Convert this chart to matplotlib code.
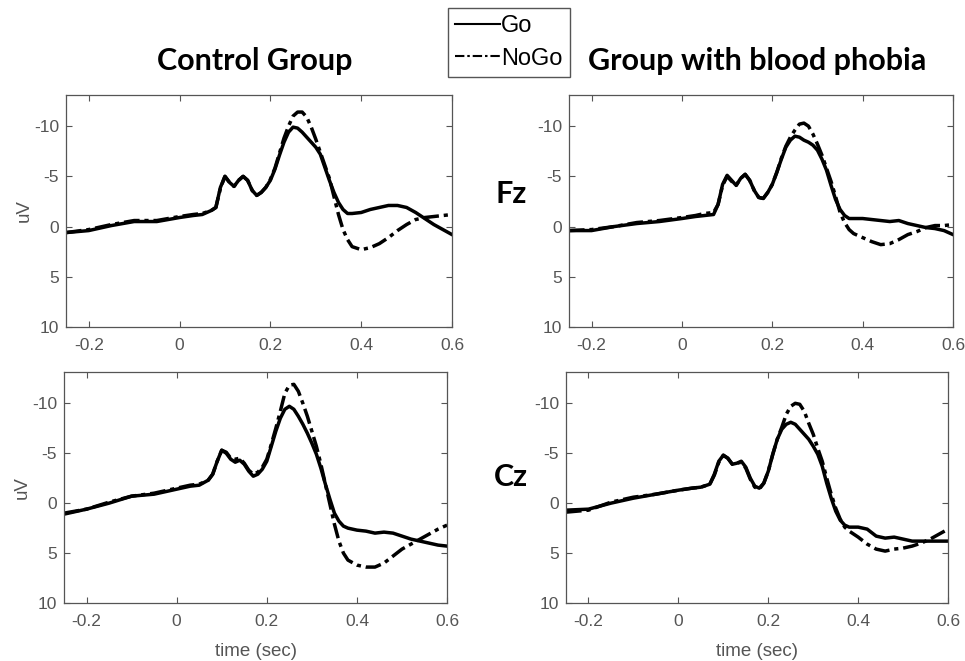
import matplotlib
matplotlib.use("Agg")
import matplotlib.pyplot as plt

# time axis (sec), shared by all traces
t = [-0.25, -0.2, -0.15, -0.1, -0.05, 0.0, 0.03, 0.05, 0.07,
     0.08, 0.09, 0.10, 0.11, 0.12, 0.13, 0.14, 0.15, 0.16, 0.17, 0.18,
     0.19, 0.20, 0.21, 0.22, 0.23, 0.24, 0.25, 0.26, 0.27, 0.28, 0.29,
     0.30, 0.31, 0.32, 0.33, 0.34, 0.35, 0.36, 0.37, 0.38,
     0.40, 0.42, 0.44, 0.46, 0.48, 0.50, 0.52, 0.54, 0.56, 0.58, 0.60]

# Fz, control group
fz_ctrl_go = [0.6, 0.4, -0.1, -0.5, -0.5, -0.9, -1.1, -1.2, -1.6,
              -1.9, -3.9, -5.0, -4.4, -4.0, -4.6, -5.0, -4.6, -3.6, -3.1, -3.4,
              -3.9, -4.6, -5.7, -7.1, -8.4, -9.4, -9.9, -9.8, -9.4, -8.9, -8.4,
              -7.9, -7.2, -5.9, -4.6, -3.4, -2.4, -1.7, -1.3, -1.3,
              -1.4, -1.7, -1.9, -2.1, -2.1, -1.9, -1.4, -0.8, -0.2, 0.3, 0.8]
fz_ctrl_nogo = [0.6, 0.3, -0.2, -0.6, -0.6, -1.0, -1.2, -1.3, -1.6,
                -1.9, -3.8, -5.0, -4.4, -4.0, -4.6, -5.0, -4.6, -3.6, -3.1, -3.4,
                -3.9, -4.7, -5.8, -7.3, -8.8, -10.0, -11.0, -11.4, -11.4, -10.9, -9.9,
                -8.7, -7.4, -6.1, -4.8, -3.0, -1.2, 0.3, 1.3, 2.0,
                2.3, 2.1, 1.7, 1.1, 0.4, -0.2, -0.7, -0.9, -1.0, -1.1, -1.2]

# Fz, blood phobia group
fz_phob_go = [0.4, 0.4, 0.0, -0.3, -0.5, -0.8, -1.0, -1.1, -1.2,
              -2.2, -4.2, -5.1, -4.6, -4.1, -4.8, -5.2, -4.6, -3.6, -2.9, -2.8,
              -3.4, -4.2, -5.4, -6.7, -7.9, -8.6, -9.0, -8.9, -8.6, -8.4, -8.1,
              -7.6, -6.7, -5.6, -4.1, -2.7, -1.7, -1.1, -0.8, -0.8,
              -0.8, -0.7, -0.6, -0.5, -0.6, -0.3, -0.1, 0.1, 0.2, 0.4, 0.8]
fz_phob_nogo = [0.4, 0.3, 0.0, -0.4, -0.6, -0.9, -1.1, -1.3, -1.4,
                -2.2, -4.1, -5.0, -4.5, -4.1, -4.8, -5.2, -4.6, -3.6, -2.9, -2.8,
                -3.4, -4.2, -5.4, -6.8, -8.0, -8.9, -9.6, -10.2, -10.3, -10.0, -9.2,
                -8.2, -7.1, -5.8, -4.5, -3.0, -1.4, -0.4, 0.3, 0.7,
                1.1, 1.5, 1.8, 1.7, 1.3, 0.8, 0.5, 0.1, -0.1, -0.1, -0.2]

# Cz, control group
cz_ctrl_go = [1.1, 0.6, 0.0, -0.7, -0.9, -1.4, -1.7, -1.8, -2.3,
              -2.9, -4.2, -5.3, -5.0, -4.4, -4.1, -4.3, -3.9, -3.2, -2.7, -2.9,
              -3.4, -4.2, -5.7, -7.2, -8.5, -9.4, -9.7, -9.4, -8.7, -7.9, -7.0,
              -6.0, -4.9, -3.5, -1.9, -0.4, 1.0, 1.8, 2.3, 2.5,
              2.7, 2.8, 3.0, 2.9, 3.0, 3.3, 3.6, 3.8, 4.0, 4.2, 4.3]
cz_ctrl_nogo = [1.0, 0.6, -0.1, -0.7, -1.0, -1.5, -1.8, -1.9, -2.3,
                -2.9, -4.2, -5.3, -5.1, -4.5, -4.4, -4.5, -4.0, -3.3, -2.9, -3.1,
                -3.6, -4.4, -5.9, -7.5, -9.2, -11.0, -11.8, -11.9, -11.2, -10.0, -8.7,
                -7.2, -5.7, -3.9, -1.9, 0.1, 2.1, 3.8, 5.0, 5.7,
                6.2, 6.4, 6.4, 6.0, 5.3, 4.6, 4.1, 3.6, 3.1, 2.6, 2.2]

# Cz, blood phobia group
cz_phob_go = [0.7, 0.6, 0.0, -0.5, -0.9, -1.3, -1.5, -1.6, -1.9,
              -2.9, -4.2, -4.8, -4.5, -3.9, -4.0, -4.2, -3.6, -2.5, -1.7, -1.5,
              -2.0, -3.2, -4.9, -6.4, -7.4, -7.9, -8.1, -7.9, -7.4, -6.9, -6.4,
              -5.7, -4.9, -3.7, -2.0, -0.5, 0.8, 1.7, 2.2, 2.4,
              2.4, 2.6, 3.3, 3.5, 3.4, 3.6, 3.8, 3.8, 3.8, 3.8, 3.8]
cz_phob_nogo = [0.9, 0.7, -0.1, -0.6, -0.9, -1.3, -1.5, -1.6, -1.9,
                -2.8, -4.1, -4.8, -4.5, -3.9, -4.0, -4.1, -3.5, -2.4, -1.6, -1.4,
                -2.0, -3.2, -4.9, -6.4, -7.6, -8.9, -9.7, -10.0, -9.9, -9.2, -8.0,
                -6.9, -5.5, -4.2, -2.5, -0.9, 0.5, 1.6, 2.4, 2.8,
                3.4, 4.1, 4.6, 4.8, 4.6, 4.5, 4.3, 4.0, 3.6, 3.1, 2.6]

xticks = [-0.2, 0, 0.2, 0.4, 0.6]
xticklabels = ["-0.2", "0", "0.2", "0.4", "0.6"]
yticks = [-10, -5, 0, 5, 10]
yticklabels = ["-10", "-5", "0", "5", "10"]

grey = "#555555"
plt.rcParams["font.family"] = ["Liberation Sans", "DejaVu Sans"]

fig = plt.figure(figsize=(9.65, 6.61), dpi=100)

positions = {
    "tl": [0.0684, 0.5053, 0.400, 0.351],
    "tr": [0.5896, 0.5053, 0.398, 0.351],
    "bl": [0.0663, 0.0877, 0.397, 0.349],
    "br": [0.5865, 0.0877, 0.396, 0.349],
}
panels = [
    ("tl", fz_ctrl_go, fz_ctrl_nogo),
    ("tr", fz_phob_go, fz_phob_nogo),
    ("bl", cz_ctrl_go, cz_ctrl_nogo),
    ("br", cz_phob_go, cz_phob_nogo),
]

axes = {}
for key, go, nogo in panels:
    ax = fig.add_axes(positions[key])
    l_go, = ax.plot(t, go, color="black", lw=2.5, solid_joinstyle="round")
    l_nogo, = ax.plot(t, nogo, color="black", lw=2.5,
                      linestyle=(0, (4.5, 1.4, 1.2, 1.4)))
    ax.set_xlim(-0.25, 0.6)
    ax.set_ylim(10, -13.1)
    ax.set_xticks(xticks)
    ax.set_xticklabels(xticklabels)
    ax.set_yticks(yticks)
    ax.set_yticklabels(yticklabels)
    ax.tick_params(direction="in", top=True, right=True, length=4,
                   width=0.8, colors=grey, labelsize=12.5, pad=5)
    ax.tick_params(axis="x", pad=8)
    for s in ax.spines.values():
        s.set_color(grey)
        s.set_linewidth(0.9)
    axes[key] = ax

axes["tl"].set_ylabel("uV", color=grey, fontsize=13.5, labelpad=1)
axes["bl"].set_ylabel("uV", color=grey, fontsize=13.5, labelpad=1)
axes["bl"].set_xlabel("time (sec)", color=grey, fontsize=13.5, labelpad=10)
axes["br"].set_xlabel("time (sec)", color=grey, fontsize=13.5, labelpad=10)

bold = dict(family=["Lato", "DejaVu Sans"], fontweight="bold", color="black")
fig.text(255 / 965, 1 - 61 / 661, "Control Group", ha="center", va="center",
         fontsize=22, **bold)
fig.text(757 / 965, 1 - 61 / 661, "Group with blood phobia", ha="center",
         va="center", fontsize=22, **bold)
fig.text(511 / 965, 1 - 194 / 661, "Fz", ha="center", va="center",
         fontsize=22, **bold)
fig.text(511 / 965, 1 - 477 / 661, "Cz", ha="center", va="center",
         fontsize=22, **bold)

leg = fig.legend([l_go, l_nogo], ["Go", "NoGo"], loc="upper left",
                 bbox_to_anchor=(448 / 965, 1 - 8 / 661), fontsize=17,
                 handlelength=1.9, handletextpad=0.05, borderpad=0.3,
                 labelspacing=0.45, fancybox=False, framealpha=1,
                 edgecolor=grey, borderaxespad=0)
for ln in leg.get_lines():
    ln.set_linewidth(1.5)

fig.savefig("out.png", dpi=100)
